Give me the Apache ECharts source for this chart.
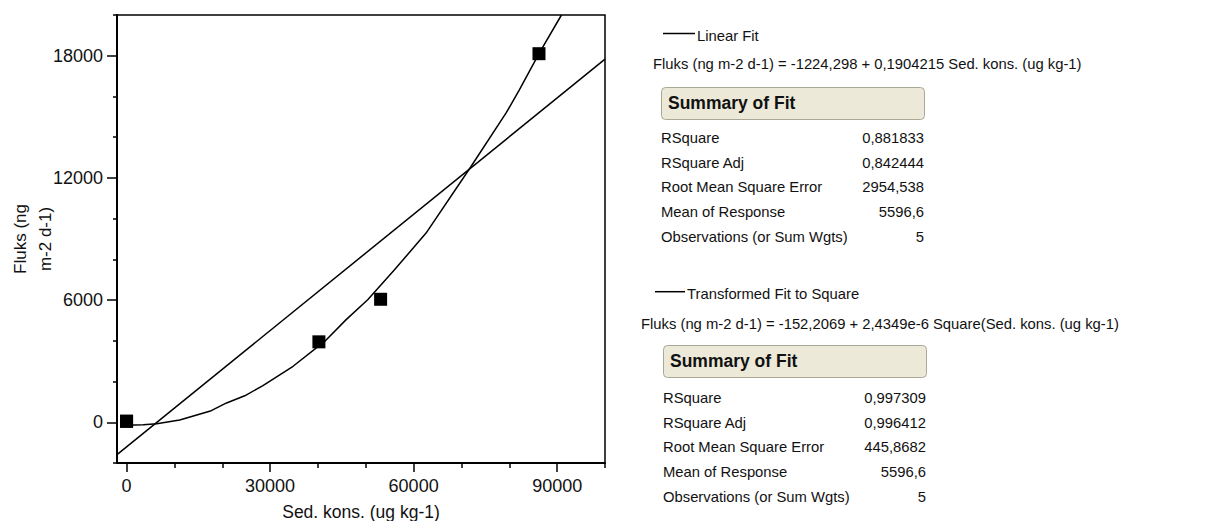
<!DOCTYPE html>
<html>
<head>
<meta charset="utf-8">
<script src="https://cdn.jsdelivr.net/npm/echarts@6/dist/echarts.min.js"></script>
<style>
html,body{margin:0;padding:0;background:#fff;}
#chart{width:1217px;height:521px;}
</style>
</head>
<body>
<div id="chart"></div>
<script>
// ---- data ----
const obsX = [0, 0, 40200, 53100, 86200];
const obsY = [50, 50, 3950, 6040, 18100];

const linFitX = [-2000, 100000];
const linFitY = [-1590, 17830];

const sqFitX = [0, 3500, 6300, 11100, 17700, 20900, 24700, 28500, 34800, 41400, 45900, 50400, 56000, 62600, 72000, 79300, 82100, 86200, 90900];
const sqFitY = [-150, -120, -70, 110, 570, 950, 1300, 1800, 2750, 3970, 5040, 6020, 7490, 9290, 12560, 15180, 16320, 18100, 20000];

const xMajorTicks = [0, 30000, 60000, 90000];
const xMinorTicks = [10000, 20000, 40000, 50000, 70000, 80000, 100000];
const yMajorTicks = [0, 6000, 12000, 18000];
const yMinorTicks = [-2000, 2000, 4000, 8000, 10000, 14000, 16000, 20000];

const xTitle = 'Sed. kons. (ug kg-1)';
const yTitle = 'Fluks (ng\nm-2 d-1)';

const fit1Name = 'Linear Fit';
const fit1Eq = 'Fluks (ng m-2 d-1) = -1224,298 + 0,1904215 Sed. kons. (ug kg-1)';
const fit2Name = 'Transformed Fit to Square';
const fit2Eq = 'Fluks (ng m-2 d-1) = -152,2069 + 2,4349e-6 Square(Sed. kons. (ug kg-1)';
const summaryTitle = 'Summary of Fit';
const summaryLabels = ['RSquare', 'RSquare Adj', 'Root Mean Square Error', 'Mean of Response', 'Observations (or Sum Wgts)'];
const fit1Values = ['0,881833', '0,842444', '2954,538', '5596,6', '5'];
const fit2Values = ['0,997309', '0,996412', '445,8682', '5596,6', '5'];

// ---- build ----
const FONT = "'Liberation Sans', Arial, sans-serif";
const TXT = '#111';
const zip = (a, b) => a.map((v, i) => [v, b[i]]);

function txt(x, y, text, opts) {
  opts = opts || {};
  const align = opts.align || 'left';
  return {
    type: 'text', x: x, y: y, silent: true,
    style: {
      text: text, fill: TXT,
      font: (opts.bold ? 'bold ' : '') + (opts.size || 14.8) + 'px ' + FONT,
      align: align, verticalAlign: 'middle',
      textAlign: align, textVerticalAlign: 'middle'
    }
  };
}

function block(o, values) {
  const els = [];
  els.push({ type: 'line', silent: true, shape: { x1: o.lx1, y1: o.ly, x2: o.lx2, y2: o.ly }, style: { stroke: '#000', lineWidth: 1.5 } });
  els.push(txt(o.lx2 + 2, o.ly + 2, o.name));
  els.push(txt(o.eqx, o.eqy, o.eq));
  els.push({ type: 'rect', silent: true, shape: { x: o.bx + 0.5, y: o.by + 0.5, width: o.bw, height: o.bh, r: 4 }, style: { fill: '#ECE9D8', stroke: '#A9A796', lineWidth: 1 } });
  els.push(txt(o.bx + 7, o.by + o.bh / 2, summaryTitle, { bold: true, size: 17.5 }));
  summaryLabels.forEach((lab, i) => {
    const y = o.ry0 + i * o.rdy;
    els.push(txt(o.bx, y, lab));
    els.push(txt(o.bx + o.bw, y, values[i], { align: 'right' }));
  });
  return els;
}

const graphics = [].concat(
  block({ lx1: 663, lx2: 695, ly: 33.5, name: fit1Name, eqx: 653, eqy: 63.5, eq: fit1Eq,
          bx: 661, by: 87, bw: 263, bh: 32, ry0: 137.7, rdy: 24.8 }, fit1Values),
  block({ lx1: 655, lx2: 685, ly: 291.7, name: fit2Name, eqx: 641, eqy: 323.5, eq: fit2Eq,
          bx: 663, by: 345, bw: 263, bh: 32, ry0: 397.7, rdy: 24.8 }, fit2Values)
);

const axisCommon = {
  type: 'value', min: -2000, splitLine: { show: false }
};
const plain = v => String(v);

const option = {
  animation: false,
  backgroundColor: '#fff',
  grid: { left: 117, right: 612, top: 15, bottom: 58, show: true, borderColor: '#000', borderWidth: 1.5,
          backgroundColor: 'transparent', containLabel: false, outerBoundsMode: 'none' },
  xAxis: [
    Object.assign({}, axisCommon, {
      max: 100000, position: 'bottom',
      axisLine: { show: true, onZero: false, lineStyle: { color: '#000', width: 2 } },
      axisTick: { show: true, customValues: xMajorTicks, length: 9, lineStyle: { color: '#000', width: 1.5 } },
      axisLabel: { show: true, customValues: xMajorTicks, formatter: plain, color: TXT, fontSize: 18, fontFamily: FONT, margin: 14 },
      name: xTitle, nameLocation: 'middle', nameGap: 40, nameMoveOverlap: false,
      nameTextStyle: { color: TXT, fontSize: 17.5, fontFamily: FONT }
    }),
    Object.assign({}, axisCommon, {
      max: 100000, position: 'bottom',
      axisLine: { show: false, onZero: false },
      axisTick: { show: true, customValues: xMinorTicks, length: 5, lineStyle: { color: '#000', width: 1.5 } },
      axisLabel: { show: false }
    })
  ],
  yAxis: [
    Object.assign({}, axisCommon, {
      max: 20000, position: 'left',
      axisLine: { show: true, onZero: false, lineStyle: { color: '#000', width: 2 } },
      axisTick: { show: true, customValues: yMajorTicks, length: 10, lineStyle: { color: '#000', width: 1.5 } },
      axisLabel: { show: true, customValues: yMajorTicks, formatter: plain, color: TXT, fontSize: 18, fontFamily: FONT, margin: 14 },
      name: yTitle, nameLocation: 'middle', nameGap: 59, nameRotate: 90, nameMoveOverlap: false,
      nameTextStyle: { color: TXT, fontSize: 17, fontFamily: FONT, lineHeight: 25 }
    }),
    Object.assign({}, axisCommon, {
      max: 20000, position: 'left',
      axisLine: { show: false, onZero: false },
      axisTick: { show: true, customValues: yMinorTicks, length: 4, lineStyle: { color: '#000', width: 1.5 } },
      axisLabel: { show: false }
    })
  ],
  series: [
    { type: 'line', name: fit1Name, data: zip(linFitX, linFitY), showSymbol: false, symbol: 'none',
      lineStyle: { color: '#000', width: 1.5 }, z: 2, silent: true },
    { type: 'line', name: fit2Name, data: zip(sqFitX, sqFitY), showSymbol: false, symbol: 'none',
      lineStyle: { color: '#000', width: 1.5 }, z: 2, silent: true },
    { type: 'scatter', data: zip(obsX, obsY), symbol: 'rect', symbolSize: 13,
      itemStyle: { color: '#000', opacity: 1 }, z: 3, silent: true }
  ],
  graphic: { elements: graphics }
};

const chart = echarts.init(document.getElementById('chart'), null, { renderer: 'svg' });
chart.setOption(option);
</script>
</body>
</html>
